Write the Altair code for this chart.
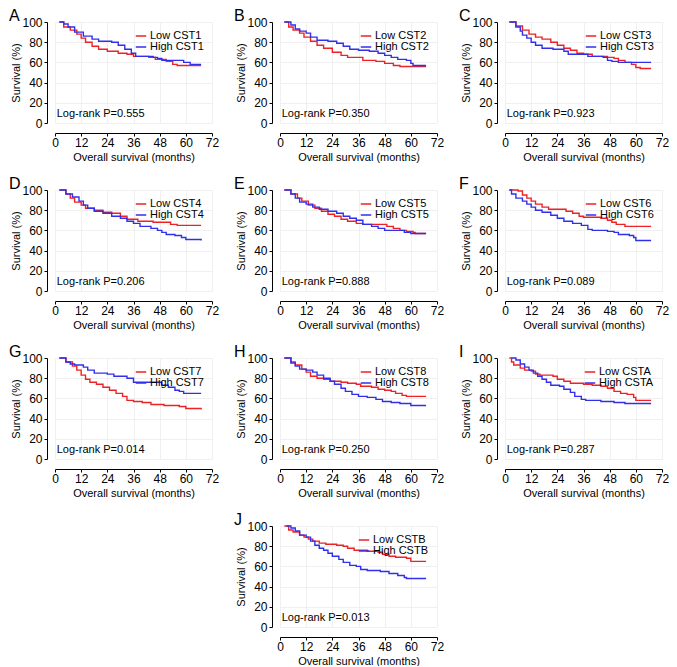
import altair as alt
import pandas as pd

LETTERS = ["A", "B", "C", "D", "E", "F", "G", "H", "I", "J"]
GENES = ["CST1", "CST2", "CST3", "CST4", "CST5", "CST6", "CST7", "CST8", "CSTA", "CSTB"]
PVALUES = ["0.555", "0.350", "0.923", "0.206", "0.888", "0.089", "0.014", "0.250", "0.287", "0.013"]
X_TICKS = [0, 12, 24, 36, 48, 60, 72]
Y_TICKS = [0, 20, 40, 60, 80, 100]

# (months, survival %) step points
A_LOW = [(2,100),(4,95),(7,92),(10,88),(12,84),(14,80),(17,76),(20,73),(24,71),(29,69),(33,68),(36,66),(43,65),(46,63),(51,61),(54,58),(56,57),(67,57)]
A_HIGH = [(2,100),(4,98),(6,95),(9,90),(13,86),(17,83),(20,81),(26,80),(29,77),(32,73),(35,69),(37,66),(45,65),(47,64),(49,62),(55,62),(59,60),(62,58),(67,58)]
B_LOW = [(2,100),(4,95),(6,92),(9,89),(11,85),(14,81),(17,77),(20,74),(24,70),(28,67),(31,65),(36,65),(38,62),(44,61),(48,59),(52,57),(55,56),(67,56)]
B_HIGH = [(2,100),(5,97),(7,93),(9,91),(12,89),(14,85),(17,82),(22,81),(26,79),(29,76),(32,73),(36,72),(41,71),(45,69),(48,67),(51,65),(54,63),(58,62),(60,59),(61,57),(67,57)]
C_LOW = [(2,100),(5,96),(8,92),(11,88),(14,85),(17,83),(21,80),(24,77),(27,74),(30,72),(33,69),(36,68),(40,66),(47,65),(50,64),(52,62),(55,60),(58,58),(60,55),(62,54),(67,54)]
C_HIGH = [(2,100),(5,95),(7,91),(8,87),(10,84),(12,80),(14,77),(17,74),(22,73),(27,71),(29,68),(33,68),(38,66),(45,65),(47,62),(49,61),(52,60),(67,60)]
D_LOW = [(2,100),(5,96),(7,92),(9,88),(12,85),(14,82),(18,80),(22,78),(26,77),(30,74),(33,71),(38,69),(45,68),(51,68),(53,66),(56,65),(67,65)]
D_HIGH = [(2,100),(5,96),(8,93),(11,89),(13,85),(15,82),(18,79),(22,77),(26,74),(30,72),(33,69),(36,67),(39,64),(44,62),(47,60),(49,58),(51,56),(55,55),(58,53),(60,51),(67,50)]
E_LOW = [(2,100),(5,96),(8,92),(10,89),(13,85),(16,82),(19,79),(22,76),(25,74),(28,71),(31,69),(35,67),(38,66),(46,66),(49,64),(52,62),(55,60),(58,59),(61,58),(62,57),(67,57)]
E_HIGH = [(2,100),(5,96),(7,92),(9,88),(12,86),(15,83),(18,81),(22,79),(26,77),(29,74),(32,72),(35,70),(38,66),(42,64),(45,62),(48,60),(53,60),(57,58),(60,57),(67,57)]
F_LOW = [(2,100),(6,99),(8,95),(10,92),(12,89),(14,86),(17,83),(20,81),(26,81),(28,79),(31,77),(34,74),(36,73),(44,72),(47,70),(49,68),(51,66),(55,64),(67,64)]
F_HIGH = [(2,100),(3,96),(5,92),(8,89),(10,86),(12,83),(14,80),(17,78),(21,75),(24,72),(27,69),(31,67),(35,65),(38,61),(40,60),(47,59),(50,58),(52,56),(57,55),(59,53),(60,50),(67,50)]
G_LOW = [(2,100),(5,96),(8,92),(10,88),(12,83),(14,79),(16,76),(19,74),(22,71),(25,68),(28,65),(31,62),(33,58),(36,57),(40,56),(44,54),(50,53),(57,52),(60,50),(67,49)]
G_HIGH = [(2,100),(5,96),(7,94),(9,93),(13,91),(15,88),(18,85),(24,84),(27,82),(33,80),(36,76),(47,76),(49,73),(52,71),(55,68),(57,67),(59,65),(67,65)]
H_LOW = [(2,100),(5,96),(7,93),(10,89),(12,86),(14,82),(17,80),(20,79),(23,77),(28,76),(31,75),(35,74),(37,72),(42,71),(45,69),(48,68),(51,67),(53,65),(56,63),(58,62),(67,62)]
H_HIGH = [(2,100),(5,95),(7,92),(9,89),(12,88),(15,86),(17,83),(20,80),(23,77),(25,74),(28,70),(30,67),(33,64),(36,62),(40,61),(44,59),(47,57),(51,56),(55,55),(60,53),(67,53)]
I_LOW = [(2,100),(3,96),(4,93),(7,90),(9,88),(12,87),(14,84),(16,83),(22,82),(24,79),(27,77),(30,75),(36,74),(40,73),(44,72),(47,70),(50,67),(53,65),(56,64),(59,61),(60,58),(67,58)]
I_HIGH = [(3,100),(5,98),(7,94),(9,91),(11,88),(13,85),(15,82),(17,79),(19,76),(21,73),(25,72),(27,69),(30,66),(32,62),(35,59),(37,58),(44,57),(50,56),(55,55),(67,55)]
J_LOW = [(2,100),(4,96),(6,94),(9,91),(11,89),(13,87),(15,85),(18,83),(21,82),(26,81),(29,80),(31,78),(34,76),(40,75),(45,74),(47,72),(50,70),(53,69),(58,68),(60,65),(67,65)]
J_HIGH = [(3,100),(5,98),(7,95),(9,91),(12,89),(14,85),(16,81),(18,78),(20,76),(22,73),(24,70),(27,67),(29,64),(32,61),(35,60),(37,57),(40,56),(46,55),(50,53),(54,51),(57,49),(58,48),(67,48)]

LOWS = [A_LOW, B_LOW, C_LOW, D_LOW, E_LOW, F_LOW, G_LOW, H_LOW, I_LOW, J_LOW]
HIGHS = [A_HIGH, B_HIGH, C_HIGH, D_HIGH, E_HIGH, F_HIGH, G_HIGH, H_HIGH, I_HIGH, J_HIGH]

RED = "#ec2227"
BLUE = "#3030ec"
FONT = "Liberation Sans"
PW, PH = 157, 101


def panel(letter, gene, low, high, p):
    lo_name, hi_name = f"Low {gene}", f"High {gene}"
    rows = [{"t": t, "s": s, "g": lo_name, "o": 0} for t, s in low]
    rows += [{"t": t, "s": s, "g": hi_name, "o": 1} for t, s in high]
    df = pd.DataFrame(rows)
    x = alt.X("t:Q", scale=alt.Scale(domain=[0, 72], nice=False),
              axis=alt.Axis(values=X_TICKS, tickCount=7, title="Overall survival (months)", offset=10,
                            labelPadding=1, titlePadding=3))
    y = alt.Y("s:Q", scale=alt.Scale(domain=[0, 100], nice=False),
              axis=alt.Axis(values=Y_TICKS, tickCount=6, title="Survival (%)", offset=8,
                            labelPadding=2, titlePadding=0))
    lines = alt.Chart(df).mark_line(interpolate="step-after", strokeWidth=1.4).encode(
        x=x, y=y,
        color=alt.Color("g:N", scale=alt.Scale(domain=[lo_name, hi_name], range=[RED, BLUE]),
                        legend=alt.Legend(title=None, orient="top-right", offset=8, padding=0,
                                          symbolType="stroke", symbolSize=110, symbolStrokeWidth=1.5,
                                          labelFontSize=11, labelFont=FONT, labelColor="black",
                                          rowPadding=0, labelOffset=3)),
        order="o:Q",
    )
    ann_df = pd.DataFrame({"t": [0.8], "s": [9], "label": [f"Log-rank P={p}"]})
    ann = alt.Chart(ann_df).mark_text(align="left", baseline="middle", fontSize=11, font=FONT,
                                      color="black").encode(x="t:Q", y="s:Q", text="label:N")
    return alt.layer(lines, ann).properties(
        width=PW, height=PH,
        title=alt.TitleParams(letter, anchor="start", frame="bounds", fontSize=16, fontWeight="normal",
                              font=FONT, color="black", baseline="alphabetic", offset=-21, dx=-2),
    )


charts = [panel(LETTERS[i], GENES[i], LOWS[i], HIGHS[i], PVALUES[i]) for i in range(9)]
blank = alt.Chart(pd.DataFrame({"v": [0]})).mark_point(opacity=0).encode(
    x=alt.value(0), y=alt.value(0)).properties(width=PW, height=PH)
charts.append(blank)
charts.append(panel(LETTERS[9], GENES[9], LOWS[9], HIGHS[9], PVALUES[9]))

chart = alt.concat(*charts, columns=3).properties(
    spacing={"row": 67, "column": 68}, bounds="flush",
    padding={"left": 0, "top": 0, "right": 0, "bottom": 0},
).resolve_scale(color="independent").configure_view(stroke=None).configure_axis(
    grid=True, gridColor="#ececec", gridWidth=0.8,
    domainColor="black", tickColor="black", labelColor="black", titleColor="black",
    labelFont=FONT, titleFont=FONT, labelFontSize=12, titleFontSize=11,
    titleFontWeight="normal", tickSize=3, domainWidth=1,
    labelOverlap=False, labelBound=False, labelFlush=False,
)

chart.save("out.html", embed_options={"renderer": "svg", "actions": False})
